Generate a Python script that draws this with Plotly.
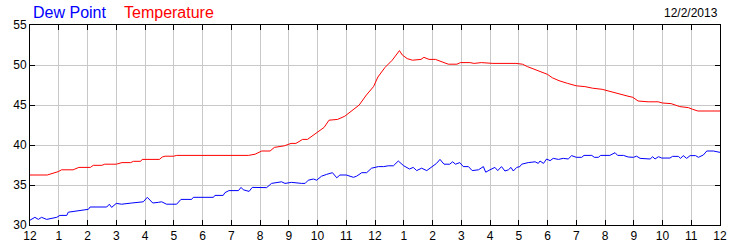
import plotly.graph_objects as go

# ---- data (hours since midnight, degrees F) ----
temp_hours = [0, 0.6, 0.98, 1.1, 1.5, 1.7, 2.1, 2.2, 2.5, 2.6, 3.0, 3.2, 3.5, 3.6, 3.85, 3.9, 4.5, 4.6, 4.7, 5.0,
              5.1, 7.6, 7.83, 8.06, 8.35, 8.5, 8.85, 9.08, 9.25, 9.48, 9.65, 9.88, 10.05, 10.23, 10.4, 10.7, 10.95,
              11.2, 11.45, 11.7, 11.95, 12.1, 12.35, 12.6, 12.75, 12.85, 12.95, 13.12, 13.3, 13.6, 13.7, 13.88,
              14.1, 14.3, 14.55, 14.85, 14.97, 15.3, 15.45, 15.7, 16.1, 16.9, 17.13, 17.3, 17.55, 17.8, 18.0,
              18.17, 18.4, 18.7, 19.0, 19.3, 19.57, 19.9, 20.15, 20.45, 20.8, 20.97, 21.15, 21.5, 21.85, 22.0,
              22.3, 22.6, 22.9, 23.05, 23.23, 24.0]
temp_values = [36.25, 36.25, 36.67, 36.9, 36.9, 37.2, 37.2, 37.46, 37.46, 37.6, 37.6, 37.8, 37.8, 37.96, 37.96,
               38.2, 38.2, 38.5, 38.6, 38.6, 38.7, 38.7, 38.85, 39.25, 39.25, 39.7, 39.9, 40.2, 40.2, 40.7, 40.7,
               41.3, 41.7, 42.2, 43.1, 43.2, 43.6, 44.3, 45.0, 46.25, 47.3, 48.5, 49.7, 50.6, 51.4, 51.8, 51.25,
               50.8, 50.6, 50.7, 50.96, 50.7, 50.7, 50.45, 50.1, 50.1, 50.3, 50.3, 50.2, 50.3, 50.2, 50.2, 50.1,
               49.8, 49.46, 49.1, 48.83, 48.4, 48.04, 47.7, 47.4, 47.3, 47.1, 46.96, 46.7, 46.4, 46.1, 45.96, 45.5,
               45.4, 45.4, 45.25, 45.17, 44.8, 44.67, 44.46, 44.25, 44.25]

dew_hours = [0, 0.17, 0.29, 0.4, 0.58, 0.75, 0.93, 1.04, 1.28, 1.33, 1.57, 1.8, 2.03, 2.09, 2.67, 2.76, 2.84, 3.0,
             3.19, 3.54, 3.88, 3.94, 4.08, 4.27, 4.46, 4.58, 4.75, 5.1, 5.25, 5.62, 5.68, 6.38, 6.43, 6.72, 6.78,
             6.92, 7.25, 7.34, 7.42, 7.62, 7.73, 8.0, 8.23, 8.4, 8.75, 8.87, 9.1, 9.45, 9.57, 9.68, 9.86, 9.97,
             10.14, 10.32, 10.52, 10.67, 10.78, 11.0, 11.25, 11.36, 11.54, 11.71, 11.88, 12.12, 12.3, 12.46,
             12.64, 12.81, 13.0, 13.2, 13.33, 13.45, 13.62, 13.8, 14.03, 14.14, 14.26, 14.4, 14.6, 14.7, 14.8,
             14.95, 15.07, 15.25, 15.38, 15.6, 15.77, 15.85, 16.0, 16.17, 16.27, 16.4, 16.52, 16.64, 16.73,
             16.81, 16.93, 17.04, 17.1, 17.33, 17.57, 17.68, 17.74, 17.86, 17.97, 18.09, 18.2, 18.38, 18.55,
             18.72, 18.84, 19.0, 19.19, 19.27, 19.54, 19.63, 19.77, 19.85, 20.17, 20.35, 20.44, 20.64, 20.81,
             20.99, 21.1, 21.22, 21.57, 21.66, 21.74, 21.86, 21.97, 22.26, 22.35, 22.55, 22.63, 22.72, 22.84,
             22.96, 23.15, 23.25, 23.42, 23.54, 23.77, 24.0]
dew_values = [30.6, 30.96, 30.7, 30.96, 30.7, 30.8, 30.96, 31.2, 31.2, 31.6, 31.75, 31.9, 31.96, 32.25, 32.25,
              32.6, 32.2, 32.7, 32.6, 32.75, 32.83, 32.9, 33.46, 32.75, 32.83, 32.9, 32.6, 32.6, 33.2, 33.2,
              33.46, 33.46, 33.7, 33.7, 34.04, 34.3, 34.3, 34.7, 34.4, 34.2, 34.7, 34.7, 34.67, 35.2, 35.4, 35.2,
              35.33, 35.2, 35.2, 35.6, 35.75, 35.6, 36.1, 36.33, 36.54, 35.9, 36.25, 36.25, 35.96, 36.1, 36.54,
              36.54, 37.1, 37.3, 37.3, 37.4, 37.4, 38.0, 37.4, 37.0, 37.2, 36.8, 37.1, 36.8, 37.4, 37.7, 38.2,
              37.6, 37.6, 37.9, 37.6, 37.8, 37.3, 37.3, 36.8, 36.9, 37.3, 36.6, 36.9, 37.2, 36.8, 37.3, 36.75,
              36.9, 37.2, 36.75, 37.2, 37.3, 37.6, 37.8, 37.9, 37.7, 38.0, 37.7, 38.25, 38.04, 38.33, 38.2,
              38.33, 38.25, 38.67, 38.46, 38.46, 38.7, 38.7, 38.46, 38.46, 38.7, 38.7, 39.04, 38.7, 38.7, 38.5,
              38.46, 38.6, 38.33, 38.25, 38.54, 38.25, 38.54, 38.37, 38.37, 38.58, 38.58, 38.33, 38.67, 38.33,
              38.67, 38.67, 38.46, 38.75, 39.25, 39.25, 39.08]

x_tickvals = list(range(0, 25))
x_ticktext = ["12", "1", "2", "3", "4", "5", "6", "7", "8", "9", "10", "11",
              "12", "1", "2", "3", "4", "5", "6", "7", "8", "9", "10", "11", "12"]
y_tickvals = [30, 35, 40, 45, 50, 55]
date_label = "12/2/2013"
series_names = ["Dew Point", "Temperature"]

FONT = "Liberation Sans, Arial, sans-serif"
GRID = "#c8c8c8"

fig = go.Figure()
fig.add_trace(go.Scatter(x=temp_hours, y=temp_values, mode="lines", name=series_names[1],
                         line=dict(color="#ff0000", width=1)))
fig.add_trace(go.Scatter(x=dew_hours, y=dew_values, mode="lines", name=series_names[0],
                         line=dict(color="#0000ff", width=1)))

fig.update_layout(
    width=750, height=250,
    margin=dict(l=30, r=30, t=25, b=25, pad=0, autoexpand=False),
    paper_bgcolor="white", plot_bgcolor="white",
    showlegend=False,
    font=dict(family=FONT, size=12, color="black"),
    xaxis=dict(range=[0, 24], tickvals=x_tickvals, ticktext=x_ticktext, automargin=False,
               showgrid=True, gridcolor=GRID, gridwidth=1,
               showline=True, linecolor="black", linewidth=1, mirror="ticks",
               ticks="inside", ticklen=5, tickcolor="black", zeroline=False,
               tickfont=dict(family=FONT, size=12, color="black")),
    yaxis=dict(range=[30, 55], tickvals=y_tickvals, automargin=False,
               showgrid=True, gridcolor=GRID, gridwidth=1,
               showline=True, linecolor="black", linewidth=1, mirror="ticks",
               ticks="inside", ticklen=5, tickcolor="black", zeroline=False,
               tickfont=dict(family=FONT, size=12, color="black")),
    yaxis2=dict(range=[30, 55], tickvals=y_tickvals, overlaying="y", side="right", automargin=False,
                showgrid=False, zeroline=False, ticks="", showline=False,
                tickfont=dict(family=FONT, size=12, color="black")),
)

fig.add_annotation(text=series_names[0], xref="paper", yref="paper", x=0.0, y=1,
                   xanchor="left", yanchor="bottom", xshift=1, yshift=2, showarrow=False,
                   font=dict(family=FONT, size=16, color="#0000ff"))
fig.add_annotation(text=series_names[1], xref="paper", yref="paper", x=(124 - 30) / 690, y=1,
                   xanchor="left", yanchor="bottom", xshift=-2, yshift=2, showarrow=False,
                   font=dict(family=FONT, size=16, color="#ff0000"))
fig.add_annotation(text=date_label, xref="paper", yref="paper", x=1, y=1,
                   xanchor="right", yanchor="bottom", xshift=0, yshift=3, showarrow=False,
                   font=dict(family=FONT, size=12, color="black"))

fig.write_html("out.html")
